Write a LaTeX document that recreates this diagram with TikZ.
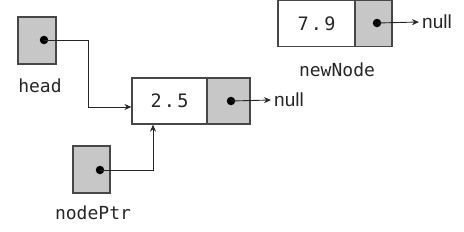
\documentclass[tikz,border=0pt]{standalone}
\usepackage{fontspec}
\setmainfont{Liberation Sans}
\setmonofont{DejaVu Sans Mono}
\newfontfamily\valfont[LetterSpace=12]{DejaVu Sans Mono}
\usepackage{xcolor}
\colorlet{colCell}{black!22}
\colorlet{colEdge}{black!72}
\usepackage{tikz}
\usetikzlibrary{arrows.meta, positioning, calc}

\tikzset{
  valcell/.style={draw=colEdge, line width=1.2pt, fill=white, minimum height=46pt, inner sep=0pt, font=\fontsize{18.5}{20}\valfont, text=black!85},
  ptrcell/.style={draw=colEdge, line width=1.2pt, fill=colCell, minimum height=46pt, inner sep=0pt},
  ptrdot/.style={circle, fill=black, inner sep=0pt, minimum size=8.5pt},
  varname/.style={font=\fontsize{18}{20}\selectfont\ttfamily, text=black!85},
  nulltxt/.style={font=\fontsize{19}{20}\selectfont, text=black!85, inner sep=3pt, anchor=west},
  ptrline/.style={draw=black!85, line width=0.9pt, -{Stealth[length=7pt,width=6pt]}}
}

\begin{document}
\begin{tikzpicture}[x=1pt, y=-1pt]
				\useasboundingbox (0,0) rectangle (464,231);
				% head pointer
				\node[ptrcell, minimum width=38pt, minimum height=47pt] (headBox) at (37,40.5) {};
				\node[ptrdot] (headDot) at (44,40) {};
				\node[varname] (headLbl) at (40,86) {head};
				% node holding 2.5
				\node[valcell, minimum width=75pt] (valA) at (169.5,101) {2.5};
				\node[ptrcell, minimum width=43pt] (ptrA) at (228.5,101) {};
				\node[ptrdot] (dotA) at (231,101) {};
				\node[nulltxt] (nullA) at (271,100) {null};
				% nodePtr pointer
				\node[ptrcell, minimum width=37pt, minimum height=47pt] (npBox) at (91.5,169.5) {};
				\node[ptrdot] (npDot) at (100,170) {};
				\node[varname] (npLbl) at (93,213) {nodePtr};
				% newNode holding 7.9
				\node[valcell, minimum width=77pt] (valB) at (316.5,23.5) {7.9};
				\node[ptrcell, minimum width=37pt] (ptrB) at (373.5,23.5) {};
				\node[ptrdot] (dotB) at (377,23) {};
				\node[nulltxt] (nullB) at (419,22) {null};
				\node[varname] (nbLbl) at (337,70) {newNode};
				% links
				\draw[ptrline] (headDot.center) -- ++(44,0) |- ([yshift=-6pt]valA.west);
				\draw[ptrline] (npDot.center) -| ([xshift=-16.5pt]valA.south);
				\draw[ptrline] (dotA.center) -- (nullA.west);
				\draw[ptrline] (dotB.center) -- (nullB.west);
			\end{tikzpicture}
\end{document}
